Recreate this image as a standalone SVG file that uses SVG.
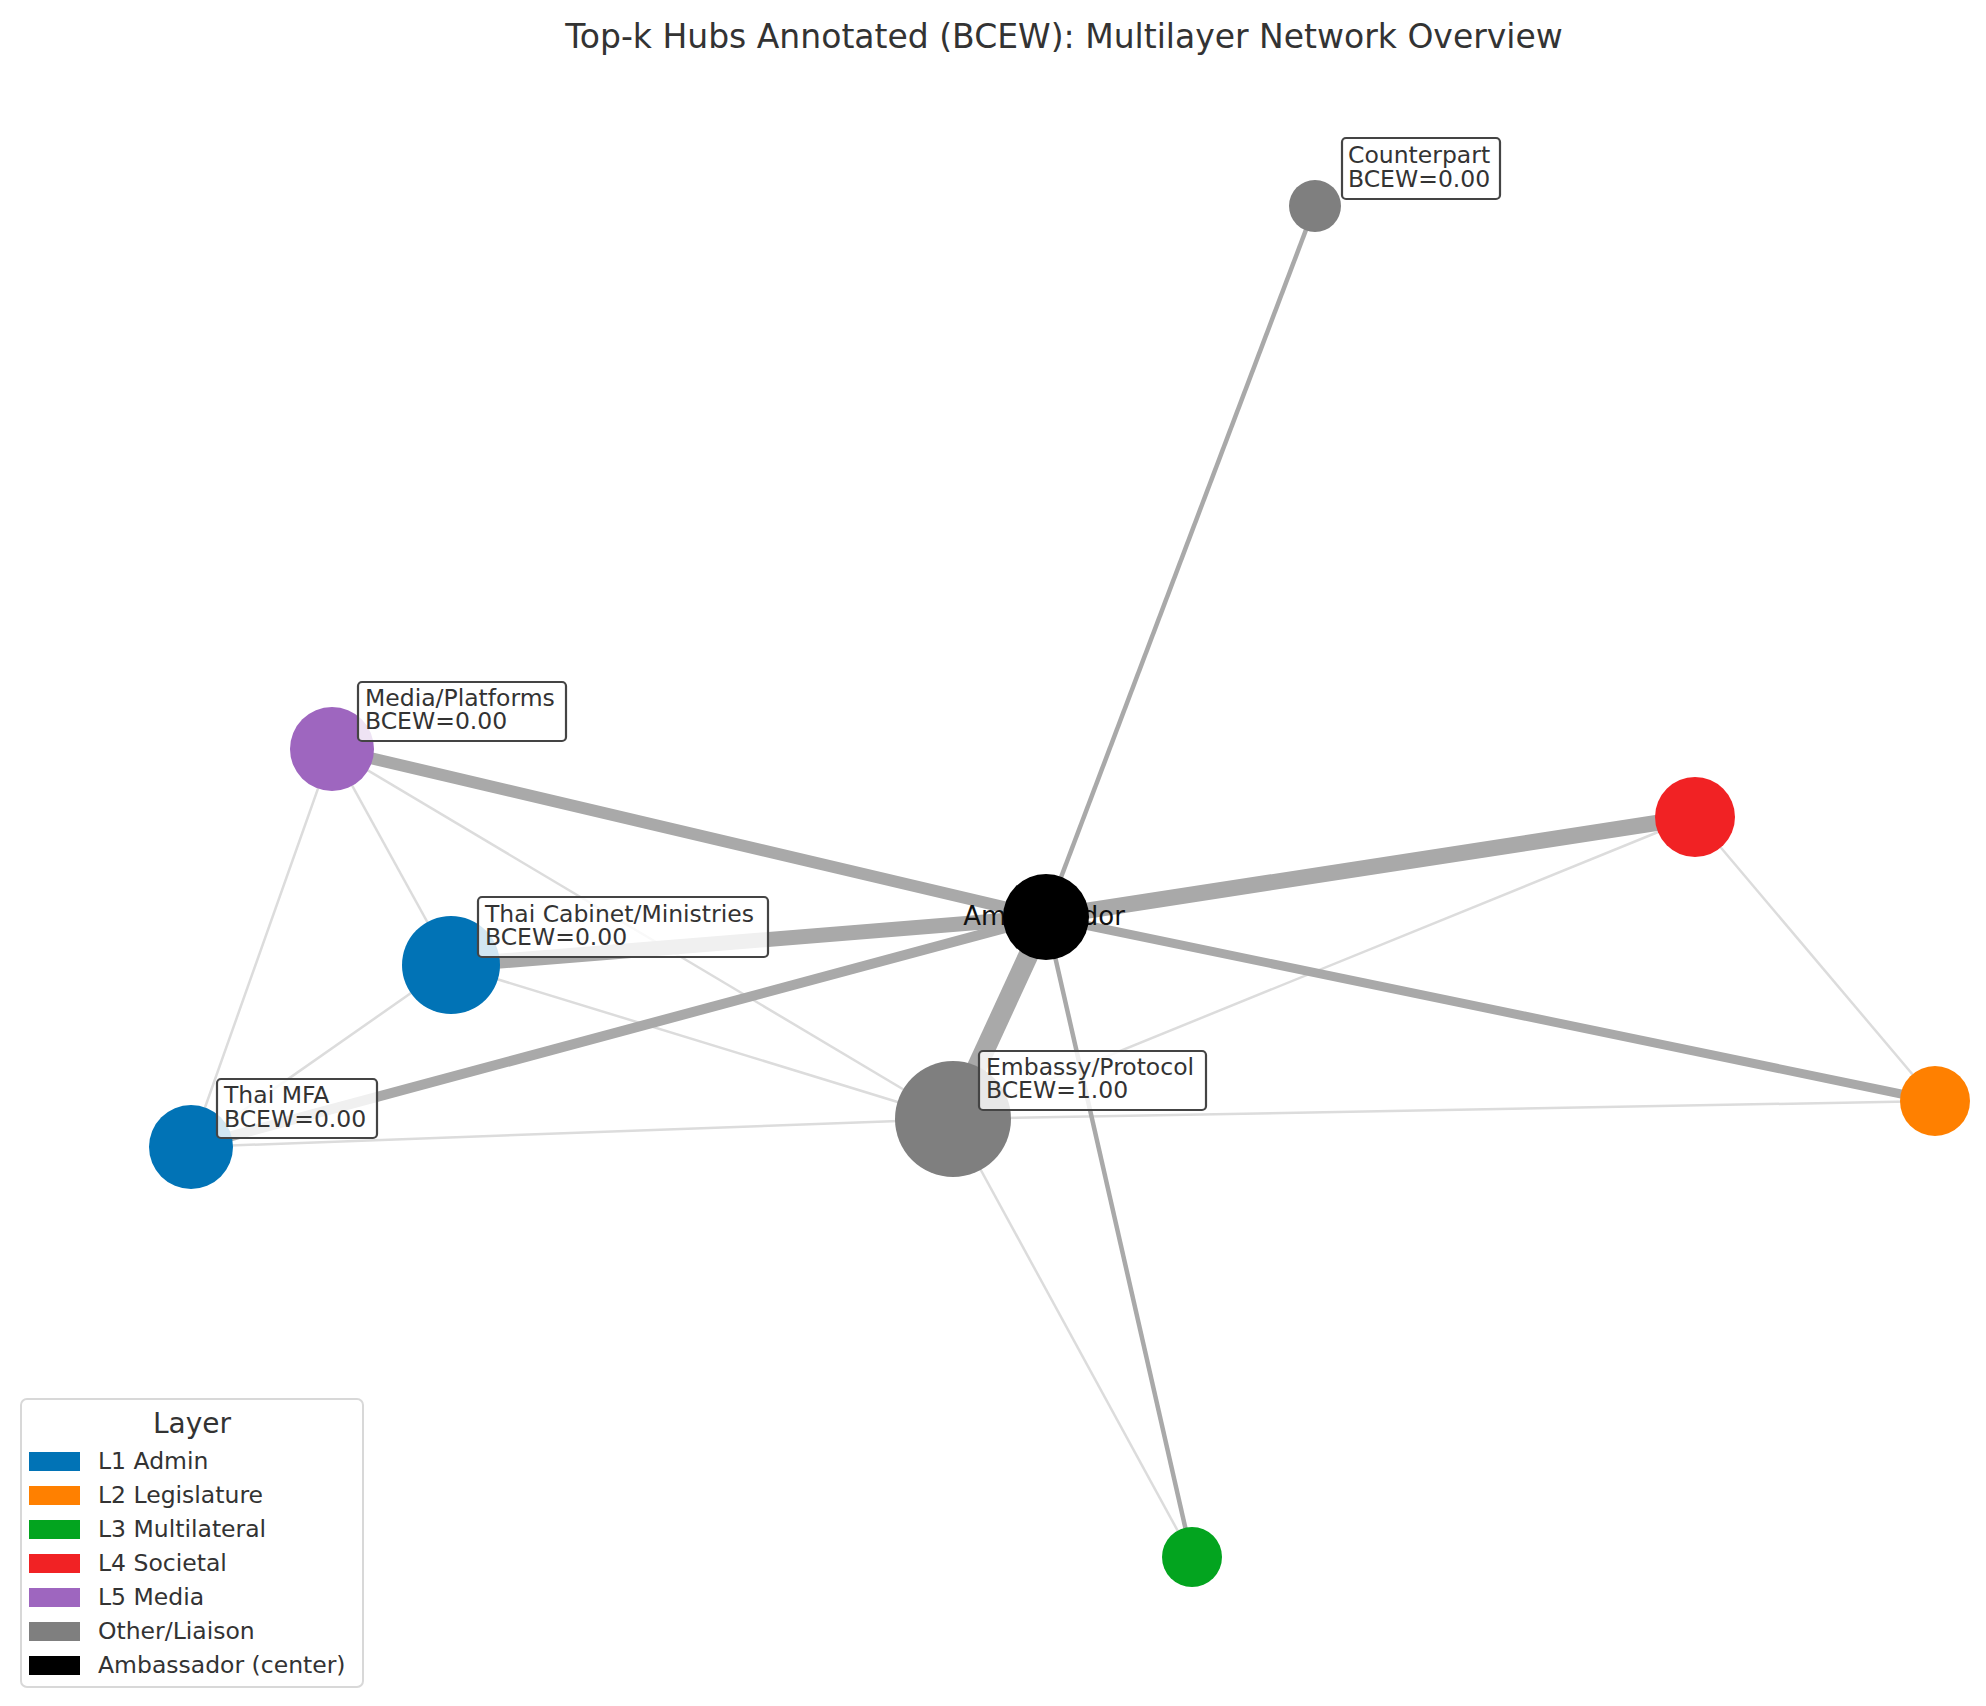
<svg xmlns="http://www.w3.org/2000/svg" width="1986" height="1706" viewBox="0 0 1986 1706">
<style>
.t{font-family:"DejaVu Sans","Liberation Sans",sans-serif;fill:#333}
.lbl{font-size:23.5px}
.box{fill:#fff;fill-opacity:0.82;stroke:#444;stroke-width:2.2}
.hv{stroke:#a9a9a9;stroke-linecap:butt;fill:none}
.lt{stroke:#dcdcdc;stroke-width:2.5;fill:none}
.leg{font-size:23.5px}
</style>
<rect width="1986" height="1706" fill="#fff"/>
<text class="t" x="1064" y="48" text-anchor="middle" font-size="33">Top-k Hubs Annotated (BCEW): Multilayer Network Overview</text>
<g id="connectors">
<line class="lt" x1="332" y1="749" x2="451" y2="965"/>
<line class="lt" x1="332" y1="749" x2="191" y2="1147"/>
<line class="lt" x1="332" y1="749" x2="953" y2="1119"/>
<line class="lt" x1="451" y1="965" x2="191" y2="1147"/>
<line class="lt" x1="451" y1="965" x2="953" y2="1119"/>
<line class="lt" x1="191" y1="1147" x2="953" y2="1119"/>
<line class="lt" x1="953" y1="1119" x2="1935" y2="1101"/>
<line class="lt" x1="953" y1="1119" x2="1695" y2="817"/>
<line class="lt" x1="1695" y1="817" x2="1935" y2="1101"/>
<line class="lt" x1="953" y1="1119" x2="1192" y2="1557"/>
<line class="hv" x1="1046" y1="917" x2="1315" y2="206" stroke-width="4.5"/>
<line class="hv" x1="1046" y1="917" x2="1192" y2="1557" stroke-width="4.5"/>
<line class="hv" x1="1046" y1="917" x2="1935" y2="1101" stroke-width="9"/>
<line class="hv" x1="1046" y1="917" x2="191" y2="1147" stroke-width="10"/>
<line class="hv" x1="1046" y1="917" x2="332" y2="749" stroke-width="12"/>
<line class="hv" x1="1046" y1="917" x2="451" y2="965" stroke-width="15"/>
<line class="hv" x1="1046" y1="917" x2="1695" y2="817" stroke-width="16"/>
<line class="hv" x1="1046" y1="917" x2="953" y2="1119" stroke-width="20"/>
</g>
<g id="node-ambassador">
<text class="t" x="1044" y="925" text-anchor="middle" font-size="26" style="fill:#111">Ambassador</text>
<circle cx="1046" cy="917" r="43" fill="#000"/>
</g>
<g id="node-counterpart">
<circle cx="1315" cy="206" r="26" fill="#7f7f7f"/>
<rect class="box" x="1342" y="138" width="158" height="61" rx="4"/>
<text class="t lbl" x="1348" y="163">Counterpart</text>
<text class="t lbl" x="1348" y="187">BCEW=0.00</text>
</g>
<g id="node-media">
<circle cx="332" cy="749" r="42" fill="#9e66bf"/>
<rect class="box" x="358" y="682" width="208" height="59" rx="4"/>
<text class="t lbl" x="365" y="706">Media/Platforms</text>
<text class="t lbl" x="365" y="729">BCEW=0.00</text>
</g>
<g id="node-cabinet">
<circle cx="451" cy="965" r="49" fill="#0173b6"/>
<rect class="box" x="478" y="897" width="290" height="60" rx="4"/>
<text class="t lbl" x="485" y="922">Thai Cabinet/Ministries</text>
<text class="t lbl" x="485" y="945">BCEW=0.00</text>
</g>
<g id="node-mfa">
<circle cx="191" cy="1147" r="42" fill="#0173b6"/>
<rect class="box" x="217" y="1079" width="160" height="59" rx="4"/>
<text class="t lbl" x="224" y="1103">Thai MFA</text>
<text class="t lbl" x="224" y="1127">BCEW=0.00</text>
</g>
<g id="node-embassy">
<circle cx="953" cy="1119" r="58" fill="#7f7f7f"/>
<rect class="box" x="979" y="1051" width="227" height="59" rx="4"/>
<text class="t lbl" x="986" y="1075">Embassy/Protocol</text>
<text class="t lbl" x="986" y="1098">BCEW=1.00</text>
</g>
<g id="node-societal"><circle cx="1695" cy="817" r="40" fill="#f12224"/></g>
<g id="node-legislature"><circle cx="1935" cy="1101" r="35" fill="#ff8000"/></g>
<g id="node-multilateral"><circle cx="1192" cy="1557" r="30" fill="#03a41f"/></g>
<g id="legend">
<rect x="21" y="1399" width="342" height="288" rx="6" fill="#fff" stroke="#d8d8d8" stroke-width="2"/>
<text class="t" x="192" y="1433" text-anchor="middle" font-size="28">Layer</text>
<rect x="29" y="1452" width="51" height="19" fill="#0173b6"/>
<text class="t leg" x="98" y="1469">L1 Admin</text>
<rect x="29" y="1486" width="51" height="19" fill="#ff8000"/>
<text class="t leg" x="98" y="1503">L2 Legislature</text>
<rect x="29" y="1520" width="51" height="19" fill="#03a41f"/>
<text class="t leg" x="98" y="1537">L3 Multilateral</text>
<rect x="29" y="1554" width="51" height="19" fill="#f12224"/>
<text class="t leg" x="98" y="1571">L4 Societal</text>
<rect x="29" y="1588" width="51" height="19" fill="#9e66bf"/>
<text class="t leg" x="98" y="1605">L5 Media</text>
<rect x="29" y="1622" width="51" height="19" fill="#7f7f7f"/>
<text class="t leg" x="98" y="1639">Other/Liaison</text>
<rect x="29" y="1656" width="51" height="19" fill="#000"/>
<text class="t leg" x="98" y="1673">Ambassador (center)</text>
</g>
</svg>
